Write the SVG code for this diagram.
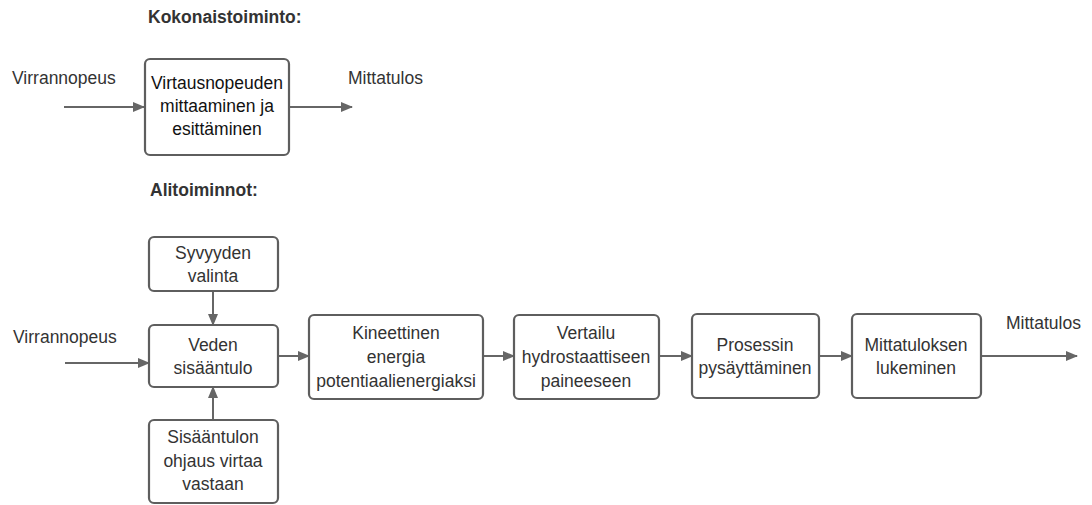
<svg xmlns="http://www.w3.org/2000/svg" width="1092" height="505" viewBox="0 0 1092 505">
<style>
.box{fill:#fff;stroke:#5e5e5e;stroke-width:2.2}
.t{font-family:"Liberation Sans",Arial,sans-serif;font-size:17.5px;fill:#333;text-anchor:middle}
.l{font-family:"Liberation Sans",Arial,sans-serif;font-size:17.5px;fill:#333}
.h{font-family:"Liberation Sans",Arial,sans-serif;font-size:17.5px;font-weight:bold;fill:#333}
.c{stroke:#666;stroke-width:2;fill:none}
</style>
<defs>
<marker id="a" viewBox="0 0 12 10" refX="11" refY="5" markerWidth="12" markerHeight="10" markerUnits="userSpaceOnUse" orient="auto">
<path d="M0,0 L12,5 L0,10 Z" fill="#666"/>
</marker>
</defs>
<rect width="1092" height="505" fill="#fff"/>
<text class="h" x="148" y="23">Kokonaistoiminto:</text>
<text class="h" x="150" y="196">Alitoiminnot:</text>
<text class="l" x="12" y="84">Virrannopeus</text>
<text class="l" x="348" y="84">Mittatulos</text>
<text class="l" x="13" y="343">Virrannopeus</text>
<text class="l" x="1006" y="329">Mittatulos</text>
<g id="connectors">
<path class="c" d="M64,107 H144" marker-end="url(#a)"/>
<path class="c" d="M289,107 H352" marker-end="url(#a)"/>
<path class="c" d="M65,363 H149" marker-end="url(#a)"/>
<path class="c" d="M213,291 V325" marker-end="url(#a)"/>
<path class="c" d="M213,420 V387" marker-end="url(#a)"/>
<path class="c" d="M278,356 H309" marker-end="url(#a)"/>
<path class="c" d="M483,356 H514" marker-end="url(#a)"/>
<path class="c" d="M659,356 H692" marker-end="url(#a)"/>
<path class="c" d="M819,356 H852" marker-end="url(#a)"/>
<path class="c" d="M981,356 H1077" marker-end="url(#a)"/>
</g>
<g id="n0"><rect class="box" x="145" y="59" width="144" height="96" rx="5"/>
<text class="t" x="217" y="89" style="fill:#111">Virtausnopeuden</text>
<text class="t" x="217" y="112" style="fill:#111">mittaaminen ja</text>
<text class="t" x="217" y="135" style="fill:#111">esittäminen</text></g>
<g id="n1"><rect class="box" x="149" y="237" width="129" height="54" rx="5"/>
<text class="t" x="213" y="259">Syvyyden</text>
<text class="t" x="213" y="282">valinta</text></g>
<g id="n2"><rect class="box" x="149" y="325" width="129" height="62" rx="5"/>
<text class="t" x="213" y="351">Veden</text>
<text class="t" x="213" y="374">sisääntulo</text></g>
<g id="n3"><rect class="box" x="149" y="420" width="129" height="83" rx="5"/>
<text class="t" x="213" y="443">Sisääntulon</text>
<text class="t" x="213" y="467">ohjaus virtaa</text>
<text class="t" x="213" y="490">vastaan</text></g>
<g id="n4"><rect class="box" x="309" y="315" width="174" height="84" rx="5"/>
<text class="t" x="396" y="339">Kineettinen</text>
<text class="t" x="396" y="363">energia</text>
<text class="t" x="396" y="387">potentiaalienergiaksi</text></g>
<g id="n5"><rect class="box" x="514" y="315" width="145" height="84" rx="5"/>
<text class="t" x="586" y="339">Vertailu</text>
<text class="t" x="586" y="363">hydrostaattiseen</text>
<text class="t" x="586" y="387">paineeseen</text></g>
<g id="n6"><rect class="box" x="692" y="314" width="127" height="84" rx="5"/>
<text class="t" x="755" y="351">Prosessin</text>
<text class="t" x="755" y="374">pysäyttäminen</text></g>
<g id="n7"><rect class="box" x="852" y="314" width="129" height="84" rx="5"/>
<text class="t" x="916" y="351">Mittatuloksen</text>
<text class="t" x="916" y="374">lukeminen</text></g>
</svg>
